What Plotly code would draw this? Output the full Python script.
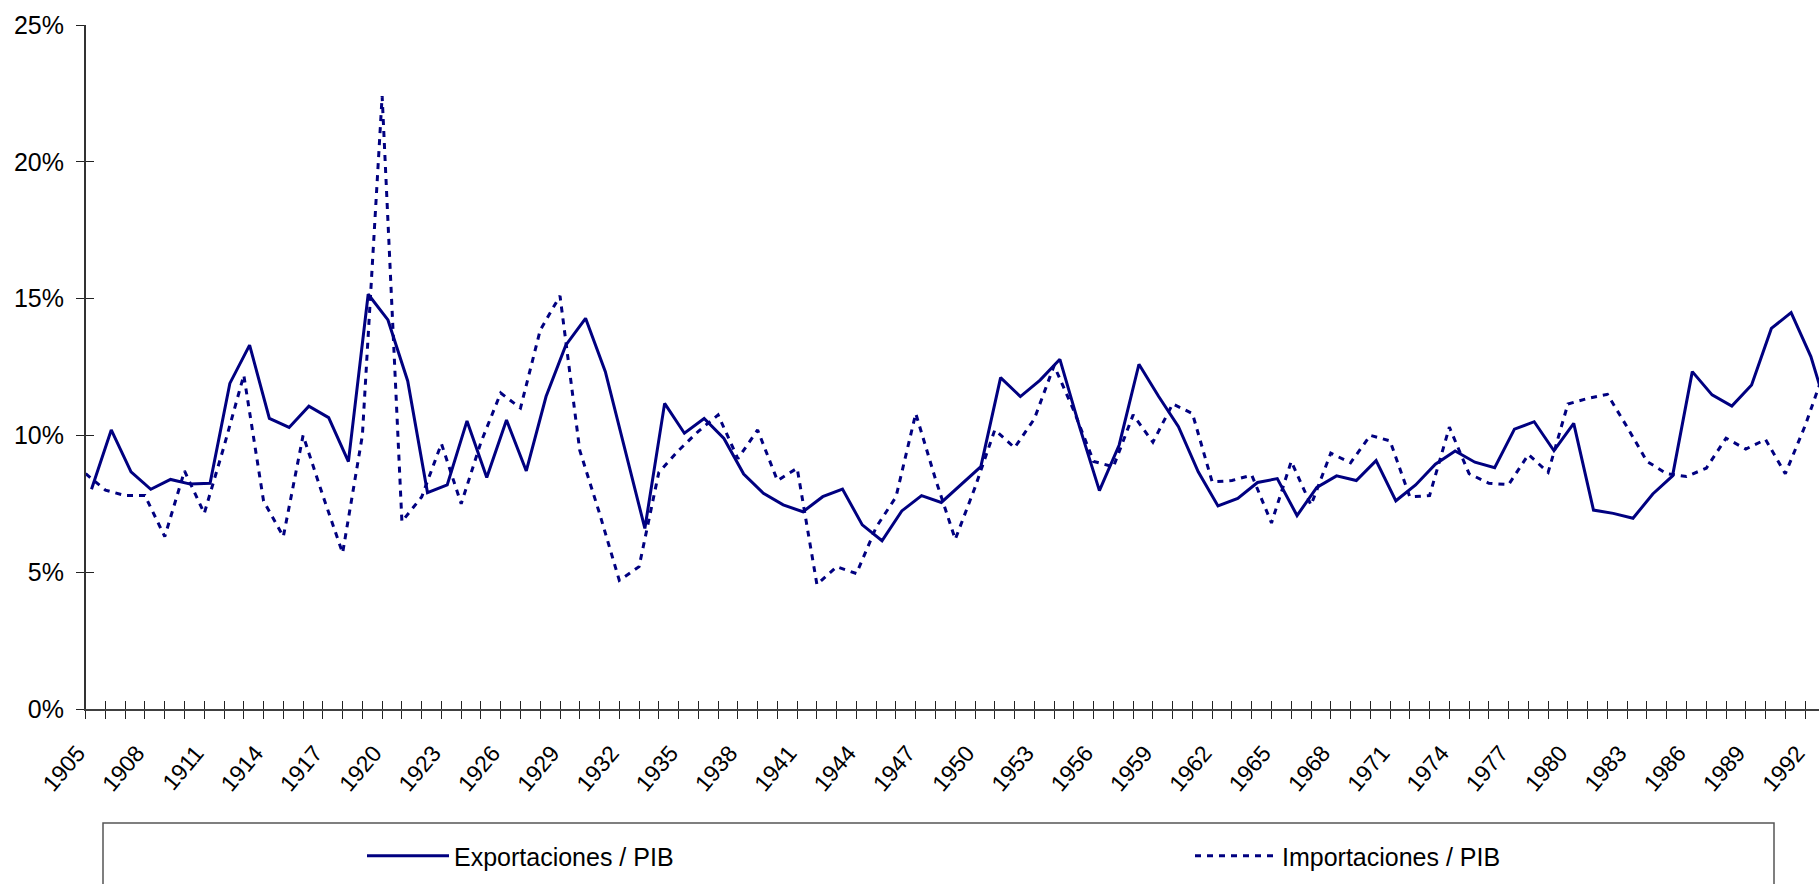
import plotly.graph_objects as go

# ---------------- data ----------------
years = list(range(1905, 1994))
exportaciones = [8.03, 10.20, 8.67, 8.03, 8.39, 8.22, 8.25, 11.90, 13.30, 10.62,
                 10.29, 11.07, 10.65, 9.04, 15.16, 14.22, 11.99, 7.91, 8.19, 10.53,
                 8.46, 10.56, 8.70, 11.42, 13.30, 14.28, 12.33, 9.47, 6.60, 11.17,
                 10.08, 10.62, 9.89, 8.59, 7.88, 7.46, 7.21, 7.76, 8.04, 6.73,
                 6.15, 7.24, 7.80, 7.55, 8.19, 8.86, 12.11, 11.42, 12.02, 12.78,
                 10.30, 7.98, 9.65, 12.60, 11.42, 10.32, 8.67, 7.42, 7.70, 8.28,
                 8.42, 7.07, 8.10, 8.52, 8.35, 9.08, 7.61, 8.19, 8.95, 9.43,
                 9.02, 8.82, 10.23, 10.50, 9.44, 10.44, 7.27, 7.15, 6.97, 7.86,
                 8.52, 12.33, 11.48, 11.07, 11.84, 13.91, 14.49, 12.88, 10.50]
importaciones = [8.60, 8.00, 7.80, 7.80, 6.30, 8.70, 7.15, 9.60, 12.20, 7.60,
                 6.30, 10.00, 7.80, 5.70, 10.00, 22.40, 6.85, 7.75, 9.70, 7.50,
                 9.75, 11.55, 11.00, 13.85, 15.10, 9.45, 7.15, 4.70, 5.20, 8.65,
                 9.45, 10.15, 10.75, 9.15, 10.20, 8.35, 8.80, 4.55, 5.20, 4.95,
                 6.65, 7.75, 10.80, 8.40, 6.20, 8.10, 10.20, 9.55, 10.60, 12.55,
                 10.90, 9.05, 8.85, 10.75, 9.75, 11.15, 10.80, 8.30, 8.35, 8.55,
                 6.80, 9.05, 7.45, 9.35, 9.00, 10.00, 9.80, 7.75, 7.80, 10.30,
                 8.60, 8.25, 8.20, 9.30, 8.65, 11.15, 11.35, 11.50, 10.30, 9.05,
                 8.60, 8.50, 8.80, 9.90, 9.50, 9.85, 8.60, 10.35, 12.40]
label_years = list(range(1905, 1993, 3))
y_ticks = [0, 5, 10, 15, 20, 25]
y_tick_text = [f"{v}%" for v in y_ticks]
series_names = ["Exportaciones / PIB", "Importaciones / PIB"]

# ---------------- layout geometry (pixels) ----------------
W, H = 1819, 884
x_left = 85.7          # y-axis position
x_step = 19.763        # pixels per year
y_bottom, y_top = 709, 25
solid_shift = 5.8      # px offset of the solid series
label_px = -8.0        # px offset of the rotated year labels

span = (W - x_left) / x_step
xdom = [x_left / W, 1.0]
ydom = [(H - y_bottom) / H, (H - y_top) / H]
rng_main = [years[0], years[0] + span]
sh = solid_shift / x_step
rng_solid = [rng_main[0] - sh, rng_main[1] - sh]
lb = label_px / x_step
rng_lab = [years[0] - lb - x_left / x_step, years[0] - lb + span]

NAVY = "#000080"
AXC = "#404040"
FONT = "Liberation Sans, Arial, sans-serif"
FS = 25
FS_X = 23

fig = go.Figure()
fig.add_trace(go.Scatter(x=years, y=exportaciones, name=series_names[0], mode="lines",
                         line=dict(color=NAVY, width=3), xaxis="x2", yaxis="y",
                         legendwidth=731))
fig.add_trace(go.Scatter(x=years, y=importaciones, name=series_names[1], mode="lines",
                         line=dict(color=NAVY, width=3, dash="6px,6px"), xaxis="x", yaxis="y",
                         legendwidth=250))
# helper (empty) traces so the auxiliary axes are drawn
fig.add_trace(go.Scatter(x=[None], y=[None], xaxis="x3", yaxis="y", showlegend=False, hoverinfo="skip"))
fig.add_trace(go.Scatter(x=[None], y=[None], xaxis="x4", yaxis="y2", showlegend=False, hoverinfo="skip"))

fig.update_layout(
    width=W, height=H,
    margin=dict(l=0, r=0, t=0, b=0, autoexpand=False),
    paper_bgcolor="white", plot_bgcolor="rgba(0,0,0,0)",
    font=dict(family=FONT, size=FS, color="black"),
    showlegend=True,
    xaxis=dict(domain=xdom, range=rng_main, anchor="y", tickmode="array", tickvals=years,
               ticks="outside", ticklen=8, tickwidth=1, tickcolor="#222", automargin=False,
               showticklabels=False, showline=True, linecolor=AXC, linewidth=2,
               showgrid=False, zeroline=False),
    xaxis2=dict(domain=xdom, range=rng_solid, overlaying="x", anchor="y", visible=False,
                automargin=False),
    xaxis3=dict(domain=[0, 1], range=rng_lab, anchor="y", tickmode="array",
                tickvals=label_years, ticktext=[str(v) for v in label_years], automargin=False,
                tickangle=-50, ticks="", showline=False, showgrid=False, zeroline=False,
                ticklabelstandoff=25, tickfont=dict(size=FS_X)),
    xaxis4=dict(domain=xdom, range=rng_main, overlaying="x", anchor="y", tickmode="array",
                tickvals=years, ticks="inside", ticklen=8, tickwidth=1, tickcolor="#222",
                automargin=False, showticklabels=False, showline=False, showgrid=False,
                zeroline=False),
    yaxis=dict(domain=ydom, range=[0, 25], anchor="x", tickmode="array", tickvals=y_ticks,
               ticktext=y_tick_text, ticks="outside", ticklen=8, tickwidth=1, tickcolor="#222",
               showline=True, linecolor="#333", linewidth=1.5, showgrid=False, zeroline=False,
               automargin=False, ticklabelstandoff=7, tickfont=dict(size=FS)),
    yaxis2=dict(domain=ydom, range=[0, 25], overlaying="y", anchor="x", side="left",
                tickmode="array", tickvals=y_ticks, ticks="inside", ticklen=8, tickwidth=1,
                tickcolor="#222", showticklabels=False, showline=False, showgrid=False,
                zeroline=False, automargin=False),
    legend=dict(orientation="h", x=362 / W, xanchor="left", y=(H - 856) / H, yanchor="middle",
                itemwidth=82, font=dict(size=FS), bgcolor="rgba(0,0,0,0)",
                borderwidth=0, traceorder="normal"),
    shapes=[dict(type="rect", xref="paper", yref="paper", x0=103 / W, x1=1774 / W,
                 y0=-0.1, y1=(H - 823) / H, line=dict(color="#555", width=1.5),
                 fillcolor="rgba(0,0,0,0)", layer="below")],
)

fig.write_html("out.html", config={"displayModeBar": False},
               post_script="document.body.style.margin='0px';document.body.style.overflow='hidden';")
